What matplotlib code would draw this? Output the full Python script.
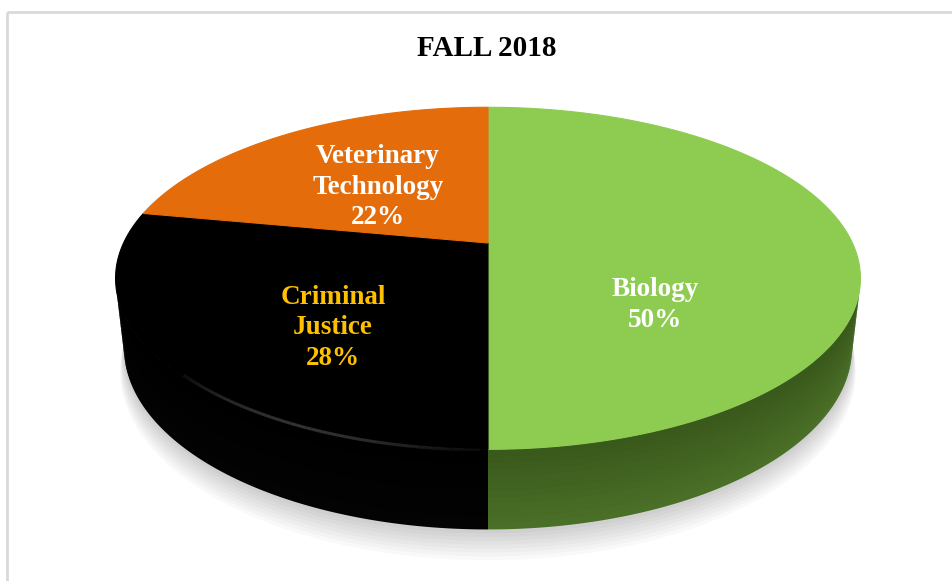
import numpy as np
import matplotlib.pyplot as plt
from matplotlib.colors import to_rgb
from matplotlib.patches import Polygon, Rectangle
from matplotlib.collections import LineCollection

# enrolment share by program, fall 2018
programs = ["Biology", "Criminal\nJustice", "Veterinary\nTechnology"]
shares = [50, 28, 22]
top_colors = ["#8dcc50", "#000000", "#e46c0a"]
side_top = ["#3a591c", "#000000", "#8a4206"]
side_bottom = ["#4a6f27", "#030303", "#a04f0a"]
label_colors = ["white", "#ffc000", "white"]
label_xy = [(655, 305), (333, 328), (378, 187)]

# simple perspective camera looking down on a disc of radius 1
tilt = np.radians(26.7)
dist = 4.33
focal = 1578
cx, cy = 488, 243
thick = 0.215


def proj(phi, r=1.0, y=0.0):
    # phi measured clockwise from the back of the disc (12 o'clock)
    X = r * np.sin(phi)
    Z = -r * np.cos(phi)
    d = dist - (Z * np.cos(tilt) + y * np.sin(tilt))
    v = y * np.cos(tilt) - Z * np.sin(tilt)
    return cx + focal * X / d, cy - focal * v / d


def ring(a, b, r=1.0, y=0.0, n=120):
    phi = np.linspace(a, b, n)
    x, yy = proj(phi, r, y)
    return np.column_stack([x, yy])


fig = plt.figure(figsize=(9.52, 5.81), dpi=100)
ax = fig.add_axes([0, 0, 1, 1])
ax.set_xlim(0, 952)
ax.set_ylim(581, 0)
ax.axis("off")

# chart frame
ax.add_patch(Rectangle((6.5, 11.5), 1200, 1000, fill=False, ec="#d9d9d9", lw=2))

# soft shadow under the disc
for k in range(8, 0, -1):
    pts = ring(0, 2 * np.pi, r=1.0 + 0.0022 * k, y=-thick - 0.009 * k, n=300)
    ax.add_patch(Polygon(pts, closed=True, fc="black", ec="none", alpha=0.022))

edges = np.radians(np.concatenate([[0], np.cumsum(shares)]) * 3.6)

# front facing part of the outer wall, shaded top to bottom
vis = np.arccos(-1.0 / (dist * np.cos(tilt)))
bands = 12
for i in range(len(shares)):
    a = max(edges[i], vis)
    b = min(edges[i + 1], 2 * np.pi - vis)
    if a >= b:
        continue
    c0 = np.array(to_rgb(side_top[i]))
    c1 = np.array(to_rgb(side_bottom[i]))
    for j in range(bands):
        y0 = -thick * j / bands
        y1 = -thick * min(j + 1.6, bands) / bands
        upper = ring(a, b, y=y0)
        lower = ring(a, b, y=y1)[::-1]
        col = c0 + (c1 - c0) * j / (bands - 1)
        ax.add_patch(Polygon(np.vstack([upper, lower]), closed=True,
                             fc=col, ec="none"))

# top faces
for i in range(len(shares)):
    rim = ring(edges[i], edges[i + 1])
    centre = np.array(proj(0.0, r=0.0))
    ax.add_patch(Polygon(np.vstack([centre, rim]), closed=True,
                         fc=top_colors[i], ec=top_colors[i], lw=0.8))

# faint rim highlight on the black slice
hl = ring(np.radians(181), np.radians(227), r=0.985, y=-0.012, n=60)
segs = np.stack([hl[:-1], hl[1:]], axis=1)
fade = np.sin(np.linspace(0.15, np.pi - 0.3, len(segs))) * 0.45
cols = [(0.42, 0.42, 0.42, f) for f in fade]
ax.add_collection(LineCollection(segs, colors=cols, linewidths=2.2))

# labels
for name, val, col, (lx, ly) in zip(programs, shares, label_colors, label_xy):
    ax.text(lx, ly, f"{name}\n{val}%", color=col, fontsize=19.5, fontweight="bold",
            family="Liberation Serif", ha="center", va="center", linespacing=1.3)

ax.text(487, 48, "FALL 2018", fontsize=21, fontweight="bold",
        family="Liberation Serif", ha="center", va="center")

fig.savefig("out.png", dpi=100)
